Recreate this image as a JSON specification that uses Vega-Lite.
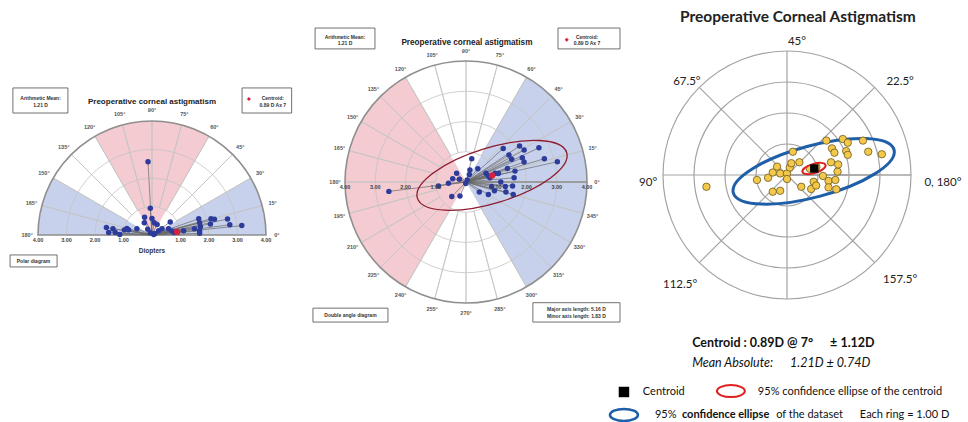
{
"$schema":"https://vega.github.io/schema/vega-lite/v6.json",
"padding":0,"spacing":0,"bounds":"flush","background":"white",
"config":{"view":{"stroke":null},"font":"Liberation Sans"},
"hconcat":[
{
"width":300,"height":422,
"layer":[
{"data":{"values":[{"a1":60,"a2":120,"zone":"WTR"},{"a1":0,"a2":30,"zone":"ATR"},{"a1":150,"a2":180,"zone":"ATR"}]},
 "mark":{"type":"arc","strokeWidth":0},
 "encoding":{"x":{"datum":0,"type":"quantitative","scale":{"domain":[-5.333,5.193],"nice":false,"zero":false},"axis":null},
  "y":{"datum":0,"type":"quantitative","scale":{"domain":[-6.561,8.246],"nice":false,"zero":false},"axis":null},
  "theta":{"field":"a1","type":"quantitative","scale":{"domain":[0,360],"range":[1.5707963,-4.712389]},"stack":null},
  "theta2":{"field":"a2"},
  "radius":{"datum":4,"type":"quantitative","scale":{"type":"linear","domain":[0,4],"range":[0,114],"zero":true,"nice":false}},
  "color":{"field":"zone","type":"nominal","scale":{"domain":["ATR","WTR"],"range":["#c7d1eb","#f3cbd1"]},"legend":null}}},
{"data":{"values":[{"r":1},{"r":2},{"r":3}]},
 "mark":{"type":"arc","fillOpacity":0,"stroke":"#c4c4c4","strokeWidth":0.8},
 "encoding":{"x":{"datum":0,"type":"quantitative"},"y":{"datum":0,"type":"quantitative"},
  "theta":{"datum":0,"type":"quantitative"},"theta2":{"datum":180},
  "radius":{"field":"r","type":"quantitative","stack":null}}},
{"data":{"values":[{"a":15},{"a":30},{"a":45},{"a":60},{"a":75},{"a":90},{"a":105},{"a":120},{"a":135},{"a":150},{"a":165}]},
 "mark":{"type":"arc","fillOpacity":0,"stroke":"#c4c4c4","strokeWidth":0.8},
 "encoding":{"x":{"datum":0,"type":"quantitative"},"y":{"datum":0,"type":"quantitative"},
  "theta":{"field":"a","type":"quantitative","stack":null},"theta2":{"field":"a"},
  "radius":{"datum":4,"type":"quantitative"},"radius2":{"datum":1}}},
{"data":{"values":[{}]},
 "mark":{"type":"arc","fillOpacity":0,"stroke":"#8f8f8f","strokeWidth":1.6},
 "encoding":{"x":{"datum":0,"type":"quantitative"},"y":{"datum":0,"type":"quantitative"},
  "theta":{"datum":0,"type":"quantitative"},"theta2":{"datum":180},
  "radius":{"datum":4,"type":"quantitative"}}},
{"data":{"name":"polar"},
 "mark":{"type":"rule","color":"#6a6a6a","strokeWidth":0.7},
 "encoding":{"x":{"field":"x","type":"quantitative"},"y":{"field":"y","type":"quantitative"},"x2":{"datum":0},"y2":{"datum":0}}},
{"data":{"name":"polar"},
 "mark":{"type":"point","filled":true,"color":"#2d3b9b","size":30,"opacity":1},
 "encoding":{"x":{"field":"x","type":"quantitative"},"y":{"field":"y","type":"quantitative"}}},
{"data":{"values":[{"x":0.88,"y":0.11}]},
 "mark":{"type":"point","filled":true,"color":"#d4213d","size":40,"opacity":1},
 "encoding":{"x":{"field":"x","type":"quantitative"},"y":{"field":"y","type":"quantitative"}}},
{"data":{"values":[{"a":0,"t":"0°"},{"a":15,"t":"15°"},{"a":30,"t":"30°"},{"a":45,"t":"45°"},{"a":60,"t":"60°"},{"a":75,"t":"75°"},{"a":90,"t":"90°"},{"a":105,"t":"105°"},{"a":120,"t":"120°"},{"a":135,"t":"135°"},{"a":150,"t":"150°"},{"a":165,"t":"165°"},{"a":180,"t":"180°"}]},
 "mark":{"type":"text","fontSize":5.5,"fontWeight":"bold","color":"#555"},
 "encoding":{"x":{"datum":0,"type":"quantitative"},"y":{"datum":0,"type":"quantitative"},
  "theta":{"field":"a","type":"quantitative","stack":null},"radius":{"datum":4.38,"type":"quantitative"},
  "text":{"field":"t"}}},
{"data":{"values":[{"v":-4,"t":"4.00"},{"v":-3,"t":"3.00"},{"v":-2,"t":"2.00"},{"v":-1,"t":"1.00"},{"v":1,"t":"1.00"},{"v":2,"t":"2.00"},{"v":3,"t":"3.00"},{"v":4,"t":"4.00"}]},
 "mark":{"type":"text","fontSize":5.5,"fontWeight":"bold","color":"#444"},
 "encoding":{"x":{"field":"v","type":"quantitative"},"y":{"datum":-0.17,"type":"quantitative"},"text":{"field":"t"}}},
{"data":{"values":[{}]},
 "mark":{"type":"text","text":"Diopters","fontSize":6.5,"fontWeight":"bold","color":"#333"},
 "encoding":{"x":{"datum":0,"type":"quantitative"},"y":{"datum":-0.55,"type":"quantitative"}}},
{"data":{"values":[{}]},
 "mark":{"type":"text","text":"Preoperative corneal astigmatism","fontSize":8,"fontWeight":"bold","color":"#222"},
 "encoding":{"x":{"datum":0,"type":"quantitative"},"y":{"datum":4.67,"type":"quantitative"}}},
{"data":{"values":[{}]},
 "mark":{"type":"rect","fill":"white","stroke":"#4d4d4d","strokeWidth":0.8},
 "encoding":{"x":{"datum":-4.88,"type":"quantitative"},"x2":{"datum":-2.95},"y":{"datum":5.16,"type":"quantitative"},"y2":{"datum":4.28}}},
{"data":{"values":[{}]},
 "mark":{"type":"rect","fill":"white","stroke":"#4d4d4d","strokeWidth":0.8},
 "encoding":{"x":{"datum":3.16,"type":"quantitative"},"x2":{"datum":4.9},"y":{"datum":5.16,"type":"quantitative"},"y2":{"datum":4.28}}},
{"data":{"values":[{}]},
 "mark":{"type":"rect","fill":"white","stroke":"#4d4d4d","strokeWidth":0.8},
 "encoding":{"x":{"datum":-4.98,"type":"quantitative"},"x2":{"datum":-3.33},"y":{"datum":-0.7,"type":"quantitative"},"y2":{"datum":-1.12}}},
{"data":{"values":[{}]},
 "mark":{"type":"text","text":["Arithmetic Mean:","1.21 D"],"fontSize":5,"fontWeight":"bold","color":"#333","lineHeight":6.5},
 "encoding":{"x":{"datum":-3.91,"type":"quantitative"},"y":{"datum":4.8,"type":"quantitative"}}},
{"data":{"values":[{}]},
 "mark":{"type":"text","text":["Centroid:","0.89 D Ax 7"],"fontSize":5,"fontWeight":"bold","color":"#333","lineHeight":6.5},
 "encoding":{"x":{"datum":4.24,"type":"quantitative"},"y":{"datum":4.8,"type":"quantitative"}}},
{"data":{"values":[{}]},
 "mark":{"type":"point","shape":"diamond","filled":true,"color":"#d4213d","size":16,"opacity":1},
 "encoding":{"x":{"datum":3.4,"type":"quantitative"},"y":{"datum":4.77,"type":"quantitative"}}},
{"data":{"values":[{}]},
 "mark":{"type":"text","text":"Polar diagram","fontSize":5,"fontWeight":"bold","color":"#333"},
 "encoding":{"x":{"datum":-4.16,"type":"quantitative"},"y":{"datum":-0.91,"type":"quantitative"}}}
]
},
{
"width":330,"height":422,
"layer":[
{"data":{"values":[{"a1":120,"a2":240,"zone":"WTR"},{"a1":-60,"a2":60,"zone":"ATR"}]},
 "mark":{"type":"arc","strokeWidth":0},
 "encoding":{"x":{"datum":0,"type":"quantitative","scale":{"domain":[-5.488,5.421],"nice":false,"zero":false},"axis":null},
  "y":{"datum":0,"type":"quantitative","scale":{"domain":[-7.934,6.017],"nice":false,"zero":false},"axis":null},
  "theta":{"field":"a1","type":"quantitative","scale":{"domain":[0,360],"range":[1.5707963,-4.712389]},"stack":null},
  "theta2":{"field":"a2"},
  "radius":{"datum":4,"type":"quantitative","scale":{"type":"linear","domain":[0,4],"range":[0,121],"zero":true,"nice":false}},
  "color":{"field":"zone","type":"nominal","scale":{"domain":["ATR","WTR"],"range":["#c7d1eb","#f3cbd1"]},"legend":null}}},
{"data":{"values":[{"r":1},{"r":2},{"r":3}]},
 "mark":{"type":"arc","fillOpacity":0,"stroke":"#c4c4c4","strokeWidth":0.8},
 "encoding":{"x":{"datum":0,"type":"quantitative"},"y":{"datum":0,"type":"quantitative"},
  "theta":{"datum":0,"type":"quantitative"},"theta2":{"datum":360},
  "radius":{"field":"r","type":"quantitative","stack":null}}},
{"data":{"values":[{"a":0},{"a":15},{"a":30},{"a":45},{"a":60},{"a":75},{"a":90},{"a":105},{"a":120},{"a":135},{"a":150},{"a":165},{"a":180},{"a":195},{"a":210},{"a":225},{"a":240},{"a":255},{"a":270},{"a":285},{"a":300},{"a":315},{"a":330},{"a":345}]},
 "mark":{"type":"arc","fillOpacity":0,"stroke":"#c4c4c4","strokeWidth":0.8},
 "encoding":{"x":{"datum":0,"type":"quantitative"},"y":{"datum":0,"type":"quantitative"},
  "theta":{"field":"a","type":"quantitative","stack":null},"theta2":{"field":"a"},
  "radius":{"datum":4,"type":"quantitative"},"radius2":{"datum":1}}},
{"data":{"values":[{}]},
 "mark":{"type":"arc","fillOpacity":0,"stroke":"#8f8f8f","strokeWidth":1.6},
 "encoding":{"x":{"datum":0,"type":"quantitative"},"y":{"datum":0,"type":"quantitative"},
  "theta":{"datum":0,"type":"quantitative"},"theta2":{"datum":360},
  "radius":{"datum":4,"type":"quantitative"}}},
{"data":{"name":"dbl"},
 "mark":{"type":"rule","color":"#6a6a6a","strokeWidth":0.7},
 "encoding":{"x":{"field":"x","type":"quantitative"},"y":{"field":"y","type":"quantitative"},"x2":{"datum":0},"y2":{"datum":0}}},
{"data":{"values":[{"cx":0.86,"cy":0.22,"major":5.16,"tilt":17}]},
 "mark":{"type":"point","shape":"M1,0C1,0.196,0.552,0.355,0,0.355C-0.552,0.355,-1,0.196,-1,0C-1,-0.196,-0.552,-0.355,0,-0.355C0.552,-0.355,1,-0.196,1,0Z","filled":false,"color":"#8e1b2e","strokeWidth":1.3,"opacity":1},
 "encoding":{"x":{"field":"cx","type":"quantitative"},"y":{"field":"cy","type":"quantitative"},
  "size":{"field":"major","type":"quantitative","scale":{"type":"pow","exponent":2,"domain":[0,8],"range":[0,58564]},"legend":null},
  "angle":{"field":"tilt","type":"quantitative","scale":{"domain":[0,360],"range":[360,0]},"legend":null}}},
{"data":{"name":"dbl"},
 "mark":{"type":"point","filled":true,"color":"#2d3b9b","size":30,"opacity":1},
 "encoding":{"x":{"field":"x","type":"quantitative"},"y":{"field":"y","type":"quantitative"}}},
{"data":{"values":[{"x":0.864,"y":0.215}]},
 "mark":{"type":"point","filled":true,"color":"#d4213d","size":40,"opacity":1},
 "encoding":{"x":{"field":"x","type":"quantitative"},"y":{"field":"y","type":"quantitative"}}},
{"data":{"values":[{"a":0,"t":"0°"},{"a":15,"t":"15°"},{"a":30,"t":"30°"},{"a":45,"t":"45°"},{"a":60,"t":"60°"},{"a":75,"t":"75°"},{"a":90,"t":"90°"},{"a":105,"t":"105°"},{"a":120,"t":"120°"},{"a":135,"t":"135°"},{"a":150,"t":"150°"},{"a":165,"t":"165°"},{"a":180,"t":"180°"},{"a":195,"t":"195°"},{"a":210,"t":"210°"},{"a":225,"t":"225°"},{"a":240,"t":"240°"},{"a":255,"t":"255°"},{"a":270,"t":"270°"},{"a":285,"t":"285°"},{"a":300,"t":"300°"},{"a":315,"t":"315°"},{"a":330,"t":"330°"},{"a":345,"t":"345°"}]},
 "mark":{"type":"text","fontSize":5.5,"fontWeight":"bold","color":"#555"},
 "encoding":{"x":{"datum":0,"type":"quantitative"},"y":{"datum":0,"type":"quantitative"},
  "theta":{"field":"a","type":"quantitative","stack":null},"radius":{"datum":4.33,"type":"quantitative"},
  "text":{"field":"t"}}},
{"data":{"values":[{"v":-4,"t":"4.00"},{"v":-3,"t":"3.00"},{"v":-2,"t":"2.00"},{"v":-1,"t":"1.00"},{"v":1,"t":"1.00"},{"v":2,"t":"2.00"},{"v":3,"t":"3.00"},{"v":4,"t":"4.00"}]},
 "mark":{"type":"text","fontSize":5.5,"fontWeight":"bold","color":"#444"},
 "encoding":{"x":{"field":"v","type":"quantitative"},"y":{"datum":-0.17,"type":"quantitative"},"text":{"field":"t"}}},
{"data":{"values":[{}]},
 "mark":{"type":"text","text":"Preoperative corneal astigmatism","fontSize":8.2,"fontWeight":"bold","color":"#222"},
 "encoding":{"x":{"datum":0.03,"type":"quantitative"},"y":{"datum":4.6,"type":"quantitative"}}},
{"data":{"values":[{}]},
 "mark":{"type":"rect","fill":"white","stroke":"#4d4d4d","strokeWidth":0.8},
 "encoding":{"x":{"datum":-4.99,"type":"quantitative"},"x2":{"datum":-3.01},"y":{"datum":5.09,"type":"quantitative"},"y2":{"datum":4.4}}},
{"data":{"values":[{}]},
 "mark":{"type":"rect","fill":"white","stroke":"#4d4d4d","strokeWidth":0.8},
 "encoding":{"x":{"datum":3.04,"type":"quantitative"},"x2":{"datum":5.09},"y":{"datum":5.09,"type":"quantitative"},"y2":{"datum":4.4}}},
{"data":{"values":[{}]},
 "mark":{"type":"rect","fill":"white","stroke":"#4d4d4d","strokeWidth":0.8},
 "encoding":{"x":{"datum":-5.06,"type":"quantitative"},"x2":{"datum":-2.58},"y":{"datum":-4.17,"type":"quantitative"},"y2":{"datum":-4.63}}},
{"data":{"values":[{}]},
 "mark":{"type":"rect","fill":"white","stroke":"#4d4d4d","strokeWidth":0.8},
 "encoding":{"x":{"datum":2.21,"type":"quantitative"},"x2":{"datum":5.09},"y":{"datum":-3.99,"type":"quantitative"},"y2":{"datum":-4.63}}},
{"data":{"values":[{}]},
 "mark":{"type":"text","text":["Arithmetic Mean:","1.21 D"],"fontSize":5,"fontWeight":"bold","color":"#333","lineHeight":6.5},
 "encoding":{"x":{"datum":-4.0,"type":"quantitative"},"y":{"datum":4.8,"type":"quantitative"}}},
{"data":{"values":[{}]},
 "mark":{"type":"text","text":["Centroid:","0.89 D Ax 7"],"fontSize":5,"fontWeight":"bold","color":"#333","lineHeight":6.5},
 "encoding":{"x":{"datum":4.0,"type":"quantitative"},"y":{"datum":4.8,"type":"quantitative"}}},
{"data":{"values":[{}]},
 "mark":{"type":"point","shape":"diamond","filled":true,"color":"#d4213d","size":16,"opacity":1},
 "encoding":{"x":{"datum":3.33,"type":"quantitative"},"y":{"datum":4.7,"type":"quantitative"}}},
{"data":{"values":[{}]},
 "mark":{"type":"text","text":"Double angle diagram","fontSize":5,"fontWeight":"bold","color":"#333"},
 "encoding":{"x":{"datum":-3.82,"type":"quantitative"},"y":{"datum":-4.4,"type":"quantitative"}}},
{"data":{"values":[{}]},
 "mark":{"type":"text","text":["Major axis length: 5.16 D","Minor axis length: 1.83 D"],"fontSize":5,"fontWeight":"bold","color":"#333","lineHeight":6.5},
 "encoding":{"x":{"datum":3.65,"type":"quantitative"},"y":{"datum":-4.2,"type":"quantitative"}}}
]
},
{
"width":338,"height":422,
"layer":[
{"data":{"values":[{"r":1},{"r":2},{"r":3},{"r":4}]},
 "mark":{"type":"arc","fillOpacity":0,"stroke":"#a3a3a3","strokeWidth":1.2},
 "encoding":{"x":{"datum":0,"type":"quantitative","scale":{"domain":[-5.065,5.839],"nice":false,"zero":false},"axis":null},
  "y":{"datum":0,"type":"quantitative","scale":{"domain":[-7.968,5.645],"nice":false,"zero":false},"axis":null},
  "theta":{"datum":0,"type":"quantitative","scale":{"domain":[0,360],"range":[1.5707963,-4.712389]}},"theta2":{"datum":360},
  "radius":{"field":"r","type":"quantitative","stack":null,"scale":{"type":"linear","domain":[0,4],"range":[0,124],"zero":true,"nice":false}}}},
{"data":{"values":[{"a":0},{"a":45},{"a":90},{"a":135},{"a":180},{"a":225},{"a":270},{"a":315}]},
 "mark":{"type":"arc","fillOpacity":0,"stroke":"#a3a3a3","strokeWidth":1.2},
 "encoding":{"x":{"datum":0,"type":"quantitative"},"y":{"datum":0,"type":"quantitative"},
  "theta":{"field":"a","type":"quantitative","stack":null},"theta2":{"field":"a"},
  "radius":{"datum":4,"type":"quantitative"}}},
{"data":{"values":[{"cx":0.86,"cy":0.12,"major":5.5,"tilt":15}]},
 "mark":{"type":"point","shape":"M1,0C1,0.171,0.552,0.309,0,0.309C-0.552,0.309,-1,0.171,-1,0C-1,-0.171,-0.552,-0.309,0,-0.309C0.552,-0.309,1,-0.171,1,0Z","filled":false,"color":"#1f5ea8","strokeWidth":3,"opacity":1},
 "encoding":{"x":{"field":"cx","type":"quantitative"},"y":{"field":"cy","type":"quantitative"},
  "size":{"field":"major","type":"quantitative","scale":{"type":"pow","exponent":2,"domain":[0,8],"range":[0,61504]},"legend":null},
  "angle":{"field":"tilt","type":"quantitative","scale":{"domain":[0,360],"range":[360,0]},"legend":null}}},
{"data":{"name":"ring"},
 "mark":{"type":"point","filled":true,"fill":"#f4c84a","stroke":"#6b5a1e","strokeWidth":0.8,"size":55,"opacity":1},
 "encoding":{"x":{"field":"x","type":"quantitative"},"y":{"field":"y","type":"quantitative"}}},
{"data":{"values":[{"cx":0.87,"cy":0.21,"major":0.8,"tilt":17}]},
 "mark":{"type":"point","shape":"M1,0C1,0.21,0.552,0.38,0,0.38C-0.552,0.38,-1,0.21,-1,0C-1,-0.21,-0.552,-0.38,0,-0.38C0.552,-0.38,1,-0.21,1,0Z","filled":false,"color":"#e02020","strokeWidth":2,"opacity":1},
 "encoding":{"x":{"field":"cx","type":"quantitative"},"y":{"field":"cy","type":"quantitative"},
  "size":{"field":"major","type":"quantitative","legend":null},
  "angle":{"field":"tilt","type":"quantitative","legend":null}}},
{"data":{"values":[{"x":0.88,"y":0.21}]},
 "mark":{"type":"point","shape":"square","filled":true,"color":"black","size":70,"opacity":1},
 "encoding":{"x":{"field":"x","type":"quantitative"},"y":{"field":"y","type":"quantitative"}}},
{"data":{"values":[{"t":"45°","x":0.32,"y":4.29},{"t":"22.5°","x":3.65,"y":3.0},{"t":"67.5°","x":-3.23,"y":3.0},{"t":"90°","x":-4.48,"y":-0.26},{"t":"0, 180°","x":5.03,"y":-0.26},{"t":"112.5°","x":-3.45,"y":-3.55},{"t":"157.5°","x":3.65,"y":-3.39}]},
 "mark":{"type":"text","font":"Lato","fontSize":11.5,"color":"#222"},
 "encoding":{"x":{"field":"x","type":"quantitative"},"y":{"field":"y","type":"quantitative"},"text":{"field":"t"}}},
{"data":{"values":[{}]},
 "mark":{"type":"text","text":"Preoperative Corneal Astigmatism","font":"Lato","fontSize":15.5,"fontWeight":"bold","color":"#222"},
 "encoding":{"x":{"datum":0.35,"type":"quantitative"},"y":{"datum":5.1,"type":"quantitative"}}},
{"data":{"values":[{"t":"Centroid : 0.89D @ 7°","x":-3.06,"y":-5.42},{"t":"± 1.12D","x":1.39,"y":-5.42}]},
 "mark":{"type":"text","font":"Lato","fontSize":12.5,"fontWeight":"bold","color":"#111","align":"left"},
 "encoding":{"x":{"field":"x","type":"quantitative"},"y":{"field":"y","type":"quantitative"},"text":{"field":"t"}}},
{"data":{"values":[{"t":"Mean Absolute:","x":-3.06,"y":-6.06},{"t":"1.21D ± 0.74D","x":0.1,"y":-6.06}]},
 "mark":{"type":"text","font":"Lato","fontSize":12.5,"fontStyle":"italic","color":"#111","align":"left"},
 "encoding":{"x":{"field":"x","type":"quantitative"},"y":{"field":"y","type":"quantitative"},"text":{"field":"t"}}},
{"data":{"values":[{"t":"Centroid","x":-4.65,"y":-7.0},{"t":"95% confidence ellipse of  the centroid","x":-0.94,"y":-7.0},{"t":"95%","x":-4.26,"y":-7.74},{"t":"of the dataset","x":-0.35,"y":-7.74},{"t":"Each ring = 1.00 D","x":2.35,"y":-7.74}]},
 "mark":{"type":"text","font":"Lato","fontSize":11,"color":"#111","align":"left"},
 "encoding":{"x":{"field":"x","type":"quantitative"},"y":{"field":"y","type":"quantitative"},"text":{"field":"t"}}},
{"data":{"values":[{"t":"confidence ellipse","x":-3.39,"y":-7.74}]},
 "mark":{"type":"text","font":"Lato","fontSize":11,"fontWeight":"bold","color":"#111","align":"left"},
 "encoding":{"x":{"field":"x","type":"quantitative"},"y":{"field":"y","type":"quantitative"},"text":{"field":"t"}}},
{"data":{"values":[{}]},
 "mark":{"type":"point","shape":"square","filled":true,"color":"black","size":110,"opacity":1},
 "encoding":{"x":{"datum":-5.26,"type":"quantitative"},"y":{"datum":-7.0,"type":"quantitative"}}},
{"data":{"values":[{}]},
 "mark":{"type":"point","shape":"M1,0C1,0.237,0.552,0.43,0,0.43C-0.552,0.43,-1,0.237,-1,0C-1,-0.237,-0.552,-0.43,0,-0.43C0.552,-0.43,1,-0.237,1,0Z","filled":false,"color":"#e02020","strokeWidth":2,"size":784,"opacity":1},
 "encoding":{"x":{"datum":-1.81,"type":"quantitative"},"y":{"datum":-6.97,"type":"quantitative"}}},
{"data":{"values":[{}]},
 "mark":{"type":"point","shape":"M1,0C1,0.237,0.552,0.43,0,0.43C-0.552,0.43,-1,0.237,-1,0C-1,-0.237,-0.552,-0.43,0,-0.43C0.552,-0.43,1,-0.237,1,0Z","filled":false,"color":"#1f5ea8","strokeWidth":2.5,"size":784,"opacity":1},
 "encoding":{"x":{"datum":-5.26,"type":"quantitative"},"y":{"datum":-7.74,"type":"quantitative"}}}
]
}
],
"datasets":{
"polar":[{"x":-0.14,"y":2.57},{"x":-0.06,"y":0.94},{"x":-0.26,"y":0.62},{"x":0.0,"y":0.58},{"x":-0.27,"y":0.43},{"x":0.08,"y":0.43},{"x":0.18,"y":0.37},{"x":0.64,"y":0.46},{"x":-1.6,"y":0.26},{"x":-1.52,"y":0.09},{"x":-1.37,"y":0.22},{"x":-1.29,"y":0.09},{"x":-1.13,"y":0.02},{"x":-0.97,"y":0.18},{"x":-0.88,"y":0.23},{"x":-0.82,"y":0.18},{"x":-0.53,"y":0.22},{"x":-0.15,"y":0.2},{"x":-0.06,"y":0.08},{"x":0.06,"y":0.02},{"x":0.1,"y":0.05},{"x":0.23,"y":0.15},{"x":0.35,"y":0.22},{"x":0.58,"y":0.22},{"x":0.7,"y":0.14},{"x":0.78,"y":0.09},{"x":1.11,"y":0.15},{"x":1.49,"y":0.22},{"x":1.64,"y":0.57},{"x":1.67,"y":0.43},{"x":1.7,"y":0.29},{"x":1.67,"y":0.15},{"x":1.67,"y":0.06},{"x":2.05,"y":0.39},{"x":2.07,"y":0.57},{"x":2.19,"y":0.55},{"x":2.65,"y":0.56},{"x":2.73,"y":0.36},{"x":3.15,"y":0.33}],
"dbl":[{"x":-2.55,"y":-0.31},{"x":-0.91,"y":-0.13},{"x":-0.58,"y":-0.04},{"x":-0.44,"y":0.11},{"x":-0.31,"y":0.29},{"x":-0.22,"y":0.09},{"x":-0.47,"y":-0.48},{"x":-0.2,"y":-0.46},{"x":-0.01,"y":-0.05},{"x":0.04,"y":0.07},{"x":0.11,"y":0.25},{"x":0.13,"y":0.4},{"x":0.19,"y":0.77},{"x":0.39,"y":0.44},{"x":0.44,"y":-0.33},{"x":0.74,"y":-0.41},{"x":0.85,"y":-0.15},{"x":0.94,"y":-0.29},{"x":0.66,"y":0.29},{"x":0.74,"y":0.2},{"x":0.79,"y":0.14},{"x":0.96,"y":0.29},{"x":1.07,"y":0.28},{"x":1.15,"y":0.0},{"x":1.3,"y":-0.15},{"x":1.32,"y":-0.33},{"x":1.56,"y":-0.41},{"x":1.54,"y":-0.13},{"x":1.59,"y":0.14},{"x":1.62,"y":0.36},{"x":1.37,"y":0.45},{"x":1.23,"y":1.11},{"x":1.42,"y":0.89},{"x":1.51,"y":0.75},{"x":1.77,"y":1.19},{"x":1.92,"y":1.06},{"x":1.86,"y":0.8},{"x":1.92,"y":0.66},{"x":2.41,"y":1.13},{"x":2.59,"y":0.77},{"x":3.02,"y":0.67}],
"ring":[{"x":-2.6,"y":-0.38},{"x":-0.97,"y":-0.16},{"x":-0.61,"y":-0.09},{"x":-0.46,"y":0.08},{"x":-0.32,"y":0.27},{"x":-0.22,"y":0.05},{"x":-0.46,"y":-0.54},{"x":-0.22,"y":-0.51},{"x":0.0,"y":0.05},{"x":0.0,"y":-0.13},{"x":0.09,"y":0.24},{"x":0.14,"y":0.38},{"x":0.19,"y":0.75},{"x":0.4,"y":0.41},{"x":0.46,"y":-0.38},{"x":0.78,"y":-0.45},{"x":0.86,"y":-0.22},{"x":0.94,"y":-0.34},{"x":0.84,"y":0.22},{"x":0.74,"y":0.2},{"x":0.95,"y":0.26},{"x":1.16,"y":-0.03},{"x":1.34,"y":-0.19},{"x":1.34,"y":-0.4},{"x":1.59,"y":-0.46},{"x":1.56,"y":-0.16},{"x":1.63,"y":0.11},{"x":1.65,"y":0.34},{"x":1.42,"y":0.41},{"x":1.27,"y":1.11},{"x":1.45,"y":0.86},{"x":1.53,"y":0.72},{"x":1.8,"y":1.16},{"x":1.96,"y":1.04},{"x":1.91,"y":0.77},{"x":1.96,"y":0.65},{"x":2.45,"y":1.11},{"x":2.62,"y":0.75},{"x":3.06,"y":0.67}]
}
}
